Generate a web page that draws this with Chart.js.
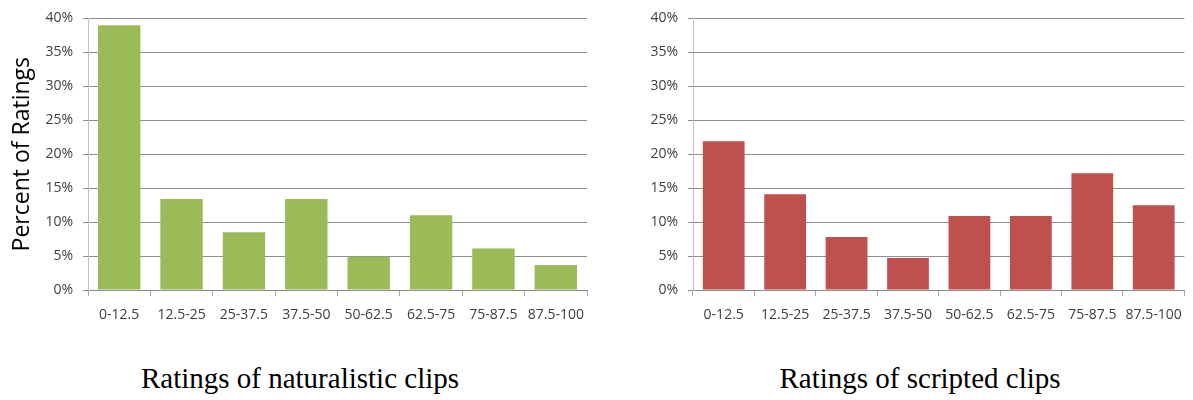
<!DOCTYPE html>
<html>
<head>
<meta charset="utf-8">
<script src="https://cdn.jsdelivr.net/npm/chart.js@4/dist/chart.umd.min.js"></script>
<style>
    body { margin: 0; background: #fff; width: 1193px; height: 400px; overflow: hidden; position: relative; }
    .box { position: absolute; top: 0; height: 335px; }
    .caption { position: absolute; top: 362px; font-family: "Liberation Serif", "Times New Roman", serif; font-size: 29px; color: #000; text-align: center; white-space: nowrap; }
</style>
</head>
<body>
<div class="box" style="left:0; width:596px;"><canvas id="naturalChart"></canvas></div>
<div class="box" style="left:600px; width:593px;"><canvas id="scriptedChart"></canvas></div>
<div class="caption" style="left:0; width:600px;">Ratings of naturalistic clips</div>
<div class="caption" style="left:620px; width:600px;">Ratings of scripted clips</div>
<script>
// Rating bins
const bins = ['0-12.5', '12.5-25', '25-37.5', '37.5-50', '50-62.5', '62.5-75', '75-87.5', '87.5-100'];

// Percent of ratings per bin
const naturalistic = [39.0, 13.4, 8.5, 13.4, 4.9, 11.0, 6.1, 3.7];
const scripted = [21.9, 14.1, 7.8, 4.7, 10.9, 10.9, 17.2, 12.5];

// y axis ticks
const yMax = 40;
const yStep = 5;

const tickFont = { family: '"Open Sans", "Noto Sans", sans-serif', size: 14 };

function makeChart(id, values, color, yTitle, axisWidth, rightPad) {
    const ctx = document.getElementById(id).getContext('2d');
    return new Chart(ctx, {
        type: 'bar',
        data: {
            labels: bins,
            datasets: [{
                data: values,
                backgroundColor: color,
                borderWidth: 0,
                categoryPercentage: 1,
                barPercentage: 0.68
            }]
        },
        options: {
            responsive: true,
            maintainAspectRatio: false,
            animation: false,
            layout: { padding: { top: 15, right: rightPad, left: 0, bottom: 0 } },
            plugins: {
                legend: { display: false },
                tooltip: { enabled: false }
            },
            scales: {
                x: {
                    grid: {
                        display: true,
                        offset: true,
                        drawOnChartArea: false,
                        drawTicks: true,
                        tickLength: 6,
                        color: '#a6a6a6'
                    },
                    border: { color: '#8c8c8c' },
                    ticks: { color: '#404040', font: tickFont, padding: 11, maxRotation: 0, autoSkip: false },
                    afterFit: function(scale) { scale.height = 45; }
                },
                y: {
                    min: 0,
                    max: yMax,
                    ticks: {
                        stepSize: yStep,
                        color: '#404040',
                        font: tickFont,
                        padding: 10,
                        callback: v => v + '%'
                    },
                    grid: { color: '#8f8f8f', tickLength: 5, lineWidth: 1 },
                    border: { color: '#c4c4c4' },
                    title: {
                        display: !!yTitle,
                        text: yTitle,
                        color: '#000',
                        font: { family: '"Open Sans", "Noto Sans", sans-serif', size: 23 },
                        padding: { top: 9, bottom: 0 }
                    },
                    afterFit: function(scale) { scale.width = axisWidth; }
                }
            }
        }
    });
}

const naturalChart = makeChart('naturalChart', naturalistic, '#9bbb59', 'Percent of Ratings', 88, 9);
const scriptedChart = makeChart('scriptedChart', scripted, '#c0504d', '', 93, 3);
</script>
</body>
</html>
